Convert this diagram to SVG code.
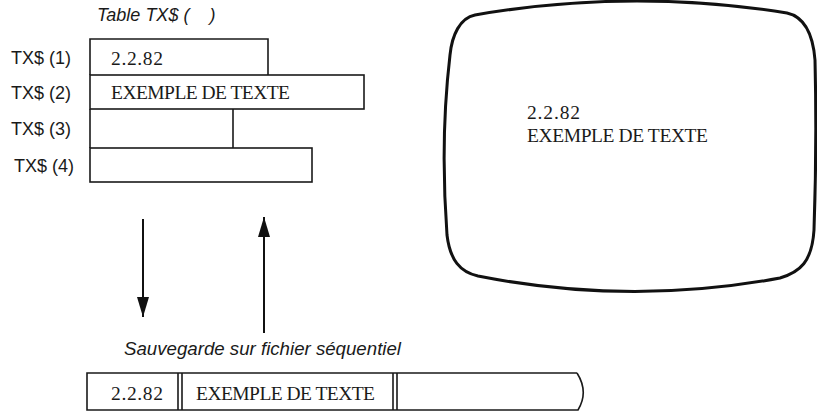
<svg xmlns="http://www.w3.org/2000/svg" width="817" height="412" viewBox="0 0 817 412">
<style>
.box{fill:none;stroke:#1a1a1a;stroke-width:1.6}
.lbl{font-family:"Liberation Sans",Arial,sans-serif;font-size:18px;fill:#1a1a1a}
.dat{font-family:"Liberation Serif","Times New Roman",serif;font-size:19.5px;fill:#1a1a1a}
.cap{font-family:"Liberation Sans",Arial,sans-serif;font-style:italic;font-size:18px;fill:#1a1a1a}
.arr{stroke:#111;stroke-width:2;fill:none}
</style>
<defs>
<marker id="ah2" viewBox="0 0 20 12" refX="20" refY="6" markerWidth="20" markerHeight="12" markerUnits="userSpaceOnUse" orient="auto">
<path d="M0,0 L20,6 L0,12 Z" fill="#111"/>
</marker>
</defs>
<rect width="817" height="412" fill="#fff"/>
<g id="table-title"><text class="cap" x="97" y="21" xml:space="preserve">Table TX$ (    )</text></g>
<g id="tx1">
<text class="lbl" x="11" y="64">TX$ (1)</text>
<path class="box" d="M90,75 V39 H268 V75"/>
<text class="dat" x="111" y="65" textLength="52">2.2.82</text>
</g>
<g id="tx2">
<text class="lbl" x="11" y="99">TX$ (2)</text>
<rect class="box" x="90" y="75" width="274" height="34"/>
<text class="dat" x="111" y="99" textLength="179">EXEMPLE DE TEXTE</text>
</g>
<g id="tx3">
<text class="lbl" x="11" y="135">TX$ (3)</text>
<path class="box" d="M90,109 V148 M233,109 V148"/>
</g>
<g id="tx4">
<text class="lbl" x="14" y="172">TX$ (4)</text>
<rect class="box" x="90" y="148" width="222" height="34"/>
</g>
<g id="screen">
<path d="M475,15 Q631,-12 787,13 C805,17 813,35 815,60 Q817,145 814,230 C812,262 800,272 780,278 Q630,306 478,276 C460,272 450,260 447,235 Q440,140 450,55 C452,35 460,18 475,15 Z" fill="none" stroke="#111" stroke-width="3"/>
<text class="dat" x="527" y="119" textLength="53">2.2.82</text>
<text class="dat" x="527" y="142" textLength="181">EXEMPLE DE TEXTE</text>
</g>
<g id="connectors">
<line class="arr" x1="143" y1="219" x2="143" y2="317" marker-end="url(#ah2)"/>
<line class="arr" x1="264" y1="333" x2="264" y2="217" marker-end="url(#ah2)"/>
</g>
<g id="file-caption"><text class="cap" x="124" y="355" textLength="277" lengthAdjust="spacingAndGlyphs">Sauvegarde sur fichier séquentiel</text></g>
<g id="file-record">
<path class="box" d="M577,373 H87 V410 H578 Q589,392 577,373"/>
<path class="box" d="M178,373 V410 M182,373 V410 M393,373 V410 M397,373 V410"/>
<text class="dat" x="111" y="400" textLength="52">2.2.82</text>
<text class="dat" x="196" y="400" textLength="179">EXEMPLE DE TEXTE</text>
</g>
</svg>
